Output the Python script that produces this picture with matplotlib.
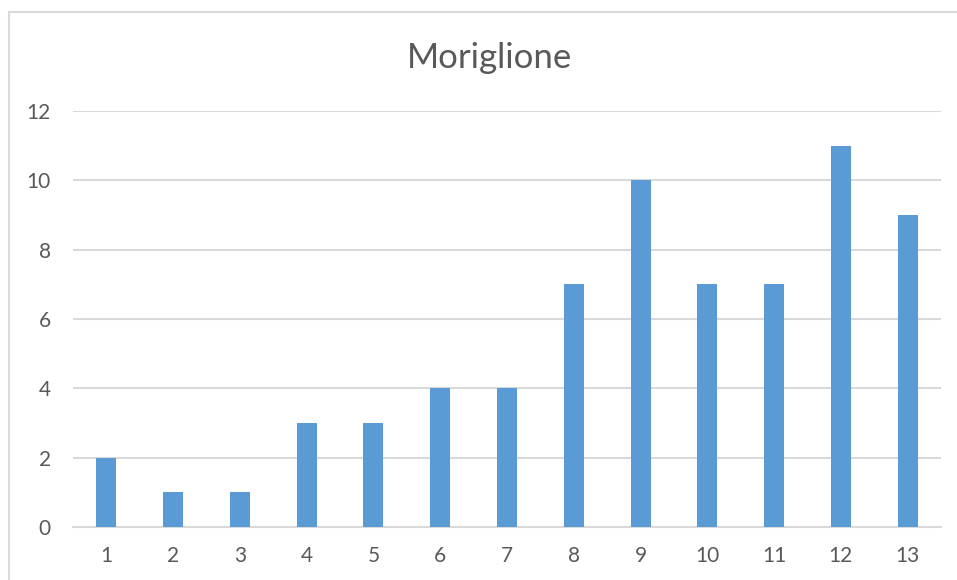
import matplotlib
matplotlib.use("Agg")
import matplotlib.pyplot as plt
from matplotlib.patches import Rectangle

# counts per category
categories = [str(i) for i in range(1, 14)]
values = [2, 1, 1, 3, 3, 4, 4, 7, 10, 7, 7, 11, 9]
y_ticks = [0, 2, 4, 6, 8, 10, 12]
title = "Moriglione"

W, H = 957, 580
fig = plt.figure(figsize=(W / 100, H / 100), dpi=100)
plt.rcParams["font.family"] = ["Lato", "DejaVu Sans"]

# chart frame (runs off the right and bottom edges)
fig.patches.append(Rectangle((9 / W, -0.1), 1.2, 1.1 - 12 / H,
                             transform=fig.transFigure, fill=False,
                             edgecolor="#D9D9D9", linewidth=1.5))

left, right, top, bottom = 73, 941, 111, 527
ax = fig.add_axes([left / W, 1 - bottom / H, (right - left) / W, (bottom - top) / H])

x = list(range(len(categories)))
ax.bar(x, values, width=0.3, color="#5B9BD5", zorder=3)

ax.set_xlim(-0.5, len(categories) - 0.5)
ax.set_ylim(0, 12)
ax.set_yticks(y_ticks)
ax.set_xticks(x)
ax.set_xticklabels(categories)
ax.grid(axis="y", color="#D9D9D9", linewidth=1.5, zorder=0)
ax.set_axisbelow(True)
for side in ["top", "right", "left"]:
    ax.spines[side].set_visible(False)
ax.spines["bottom"].set_color("#D9D9D9")
ax.spines["bottom"].set_linewidth(1.5)
ax.tick_params(axis="both", length=0, labelsize=15, labelcolor="#595959")
ax.tick_params(axis="y", pad=16)
ax.tick_params(axis="x", pad=14)

fig.text(490 / W, 1 - 58 / H, title, ha="center", va="center",
         fontsize=25, color="#595959")

fig.savefig("out.png", dpi=100)
